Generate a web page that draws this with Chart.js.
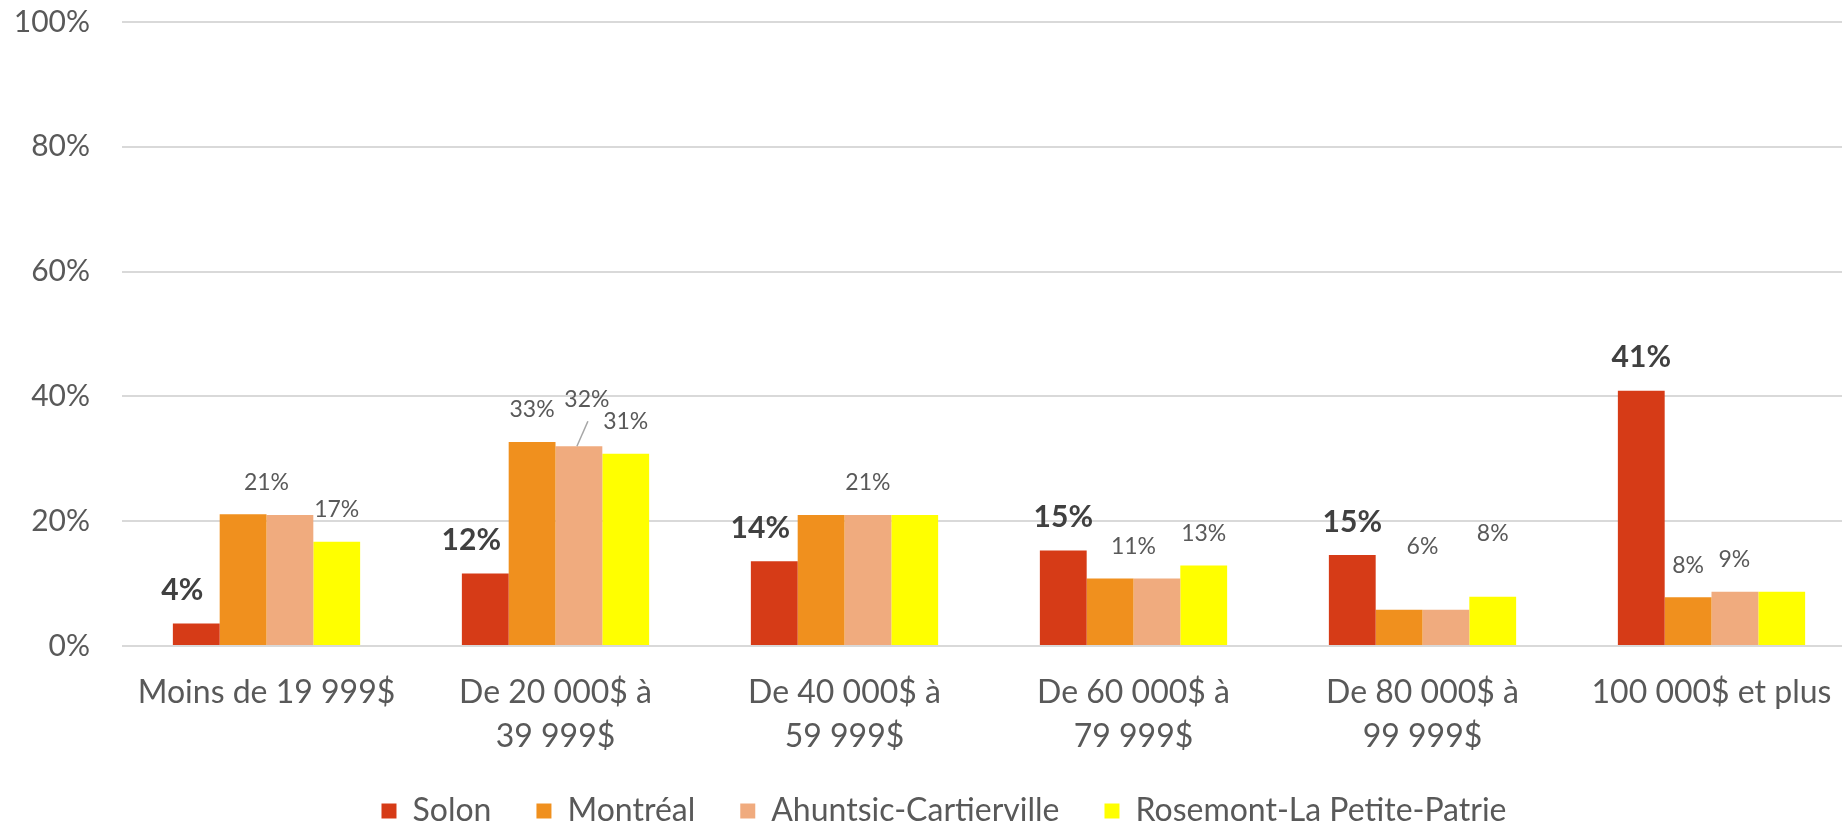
<!DOCTYPE html>
<html>
<head>
<meta charset="utf-8">
<script src="https://cdn.jsdelivr.net/npm/chart.js@4/dist/chart.umd.min.js"></script>
<style>
  html, body { margin: 0; padding: 0; background: #ffffff; overflow: hidden; width: 1842px; height: 823px; }
  #wrap { width: 1888px; height: 823px; position: relative; }
</style>
</head>
<body>
<div id="wrap"><canvas id="c" width="1888" height="823"></canvas></div>
<script>
// ---- data ----
const categories = [
  'Moins de 19 999$',
  ['De 20 000$ à', '39 999$'],
  ['De 40 000$ à', '59 999$'],
  ['De 60 000$ à', '79 999$'],
  ['De 80 000$ à', '99 999$'],
  '100 000$ et plus'
];
const seriesNames = ['Solon', 'Montréal', 'Ahuntsic-Cartierville', 'Rosemont-La Petite-Patrie'];
const solon    = [3.6, 11.6, 13.6, 15.3, 14.6, 40.9];
const montreal = [21.1, 32.7, 21.0, 10.8, 5.8, 7.8];
const ahuntsic = [21.0, 32.0, 21.0, 10.8, 5.8, 8.7];
const rosemont = [16.7, 30.8, 21.0, 12.9, 7.9, 8.7];
const yTicks   = [0, 20, 40, 60, 80, 100];

// ---- styles ----
const seriesColors = ['#D63B17', '#F0901E', '#F0AB7E', '#FFFF00'];
const labelTweaks = {
  '1-2': { dx: 8, lift: 47, leader: true },
  '4-1': { lift: 63 },
  '4-3': { lift: 63 },
  '5-2': { dx: -24 }
};
const FONT = 'Lato, "Open Sans", sans-serif';
const allSeries = [solon, montreal, ahuntsic, rosemont];
const fmt = v => Math.round(v) + '%';

const labelPlugin = {
  id: 'barLabels',
  afterLayout(chart) {
    // centre the legend under the visible page like the reference
    if (chart.legend) { chart.legend.left += 16; chart.legend.right += 16; }
  },
  afterDatasetsDraw(chart) {
    const ctx = chart.ctx;
    const metas = allSeries.map((_, i) => chart.getDatasetMeta(i));
    ctx.save();
    ctx.textAlign = 'center';
    ctx.textBaseline = 'middle';
    categories.forEach((_, g) => {
      // Solon: bold label
      const b0 = metas[0].data[g];
      const nb = metas[1].data[g];
      const dx0 = nb.y < b0.y - 18 ? -14 : 0;
      ctx.font = 'bold 30px ' + FONT;
      ctx.fillStyle = '#404040';
      ctx.fillText(fmt(allSeries[0][g]), b0.x + dx0, b0.y - 33);
      // other series: merge equal neighbouring labels
      ctx.font = '23px ' + FONT;
      let s = 1;
      while (s < allSeries.length) {
        let e = s;
        while (e + 1 < allSeries.length && fmt(allSeries[e + 1][g]) === fmt(allSeries[s][g])) e++;
        const first = metas[s].data[g], last = metas[e].data[g];
        const left = first.x - first.width / 2, right = last.x + last.width / 2;
        let top = Infinity;
        for (let k = s; k <= e; k++) top = Math.min(top, metas[k].data[g].y);
        const tw = labelTweaks[g + '-' + s] || {};
        const cx = (left + right) / 2 + (tw.dx || 0);
        const cy = top - (tw.lift || 32);
        ctx.fillStyle = '#595959';
        ctx.fillText(fmt(allSeries[s][g]), cx, cy);
        if (tw.leader) {
          ctx.strokeStyle = '#A6A6A6';
          ctx.lineWidth = 1.5;
          ctx.beginPath();
          ctx.moveTo(cx + 1, cy + 22);
          ctx.lineTo(first.x - 2, first.y);
          ctx.stroke();
        }
        s = e + 1;
      }
    });
    ctx.restore();
  }
};

function draw() {
  Chart.defaults.font.family = FONT;
  Chart.defaults.color = '#595959';
  new Chart(document.getElementById('c'), {
    type: 'bar',
    data: {
      labels: categories,
      datasets: allSeries.map((arr, i) => ({
        label: seriesNames[i],
        data: arr,
        backgroundColor: seriesColors[i],
        borderWidth: 0,
        categoryPercentage: 0.648,
        barPercentage: 1.0
      }))
    },
    options: {
      responsive: false,
      animation: false,
      devicePixelRatio: 1,
      layout: { padding: { left: 0, right: 32, top: 22, bottom: -14 } },
      plugins: {
        tooltip: { enabled: false },
        legend: {
          position: 'bottom',
          labels: {
            boxWidth: 15, boxHeight: 15, padding: 45,
            color: '#595959',
            font: { size: 32, family: FONT }
          }
        }
      },
      scales: {
        x: {
          grid: { display: false, drawTicks: false },
          border: { display: false },
          ticks: {
            autoSkip: false, maxRotation: 0, minRotation: 0,
            padding: 25, color: '#595959',
            font: { size: 32, family: FONT, lineHeight: 1.36 }
          },
          afterFit(scale) { scale.height = 104; }
        },
        y: {
          min: 0, max: 100,
          afterBuildTicks(scale) { scale.ticks = yTicks.map(v => ({ value: v })); },
          afterFit(scale) { scale.width = 122; },
          grid: { color: '#D9D9D9', lineWidth: 2, drawTicks: true, tickLength: 32, tickColor: 'rgba(0,0,0,0)' },
          border: { display: false },
          ticks: {
            padding: 0, color: '#595959',
            font: { size: 30, family: FONT },
            callback: v => v + '%'
          }
        }
      }
    },
    plugins: [labelPlugin]
  });
}

if (document.fonts && document.fonts.load) {
  Promise.all([
    document.fonts.load('32px Lato'),
    document.fonts.load('bold 30px Lato')
  ]).then(draw, draw);
} else {
  draw();
}
</script>
</body>
</html>
